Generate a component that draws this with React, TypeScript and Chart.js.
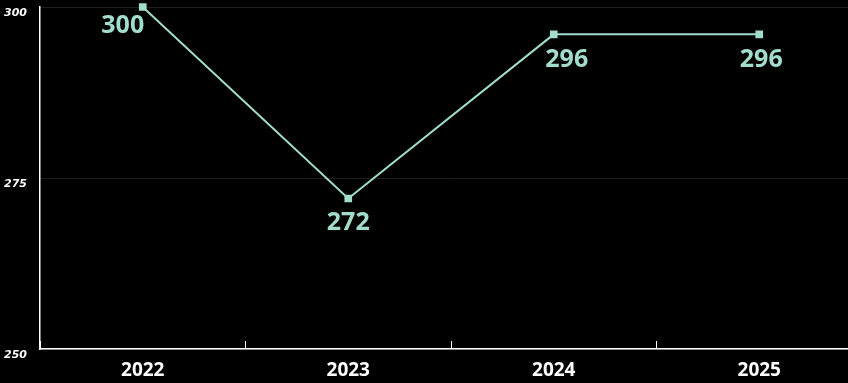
import React, { useEffect, useRef } from "react";
import { Chart, registerables } from "chart.js";

Chart.register(...registerables);

const categories = ["2022", "2023", "2024", "2025"];
const values = [300, 272, 296, 296];
const yTicks = [250, 275, 300];
const labelOffsets = [
  [-20, 19],
  [0, 24],
  [13, 26],
  [2, 26],
];

const LINE = "#a2dccd";

const valueLabels = {
  id: "valueLabels",
  afterDatasetsDraw(chart: any) {
    const ctx = chart.ctx;
    const meta = chart.getDatasetMeta(0);
    ctx.save();
    ctx.font = "bold 25px 'Open Sans'";
    ctx.fillStyle = LINE;
    ctx.textAlign = "center";
    ctx.textBaseline = "middle";
    meta.data.forEach((el: any, i: number) => {
      const [dx, dy] = labelOffsets[i];
      ctx.fillText(String(values[i]), el.x + dx, el.y + dy);
    });
    ctx.restore();
  },
};

export default function App() {
  const ref = useRef<HTMLCanvasElement>(null);
  useEffect(() => {
    document.body.style.background = "#000";
    const chart = new Chart(ref.current!, {
      type: "line",
      data: {
        labels: categories,
        datasets: [
          {
            data: values,
            borderColor: LINE,
            backgroundColor: LINE,
            borderWidth: 2,
            pointStyle: "rect",
            pointRadius: 4,
            pointBackgroundColor: LINE,
            pointBorderColor: LINE,
            tension: 0,
            clip: false,
          },
        ],
      },
      options: {
        animation: false,
        responsive: true,
        maintainAspectRatio: false,
        layout: { padding: { top: 7, bottom: 0, left: 0, right: 0 } },
        plugins: { legend: { display: false }, tooltip: { enabled: false } },
        scales: {
          x: {
            offset: true,
            afterFit: (s: any) => {
              s.height = 34;
            },
            grid: {
              offset: true,
              drawOnChartArea: false,
              drawTicks: true,
              tickLength: -8,
              color: "#ffffff",
            },
            border: { color: "#ffffff", width: 1.5 },
            ticks: {
              color: "#ffffff",
              padding: 18,
              font: { family: "'Open Sans'", size: 19, weight: "bold" },
            },
          },
          y: {
            min: 250,
            max: 300,
            afterBuildTicks: (s: any) => {
              s.ticks = yTicks.map((v) => ({ value: v }));
            },
            afterFit: (s: any) => {
              s.width = 40;
              s.paddingTop = 0;
              s.paddingBottom = 0;
            },
            grid: { color: "#1e1e1e", drawTicks: false },
            border: { color: "#ffffff", width: 1.5 },
            ticks: {
              color: "#ffffff",
              padding: 13,
              labelOffset: 6,
              font: { family: "'DejaVu Sans'", size: 11, weight: "bold", style: "italic" },
            },
          },
        },
      },
      plugins: [valueLabels],
    });
    return () => chart.destroy();
  }, []);
  return (
    <div
      style={{
        position: "fixed",
        left: 0,
        top: 0,
        width: 868,
        height: 383,
        background: "#000",
      }}
    >
      <canvas ref={ref} />
    </div>
  );
}
